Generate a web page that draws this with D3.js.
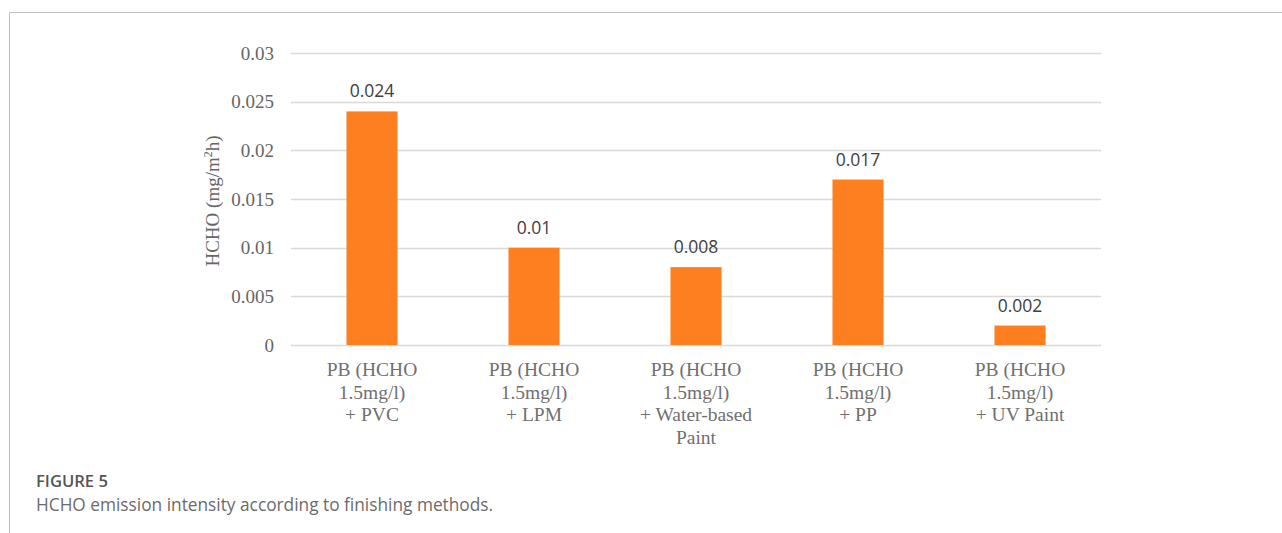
<!DOCTYPE html>
<html>
<head>
<meta charset="utf-8">
<script src="https://cdn.jsdelivr.net/npm/d3@7"></script>
<style>
  body { margin: 0; background: #fff; }
  svg { display: block; }
</style>
</head>
<body>
<div id="container"></div>
<script>
/* CONSTANTS AND GLOBALS */
const width = 1282
const height = 533
const margin = { top: 53, bottom: 188, left: 291, right: 181 }

/* DATA */
const categories = [
  ["PB (HCHO", "1.5mg/l)", "+ PVC"],
  ["PB (HCHO", "1.5mg/l)", "+ LPM"],
  ["PB (HCHO", "1.5mg/l)", "+ Water-based", "Paint"],
  ["PB (HCHO", "1.5mg/l)", "+ PP"],
  ["PB (HCHO", "1.5mg/l)", "+ UV Paint"]
]
const values = [0.024, 0.01, 0.008, 0.017, 0.002]
const valueLabels = ["0.024", "0.01", "0.008", "0.017", "0.002"]
const yTicks = [0, 0.005, 0.01, 0.015, 0.02, 0.025, 0.03]
const yTickLabels = ["0", "0.005", "0.01", "0.015", "0.02", "0.025", "0.03"]

const data = values.map((v, i) => ({ idx: i, lines: categories[i], value: v, label: valueLabels[i] }))

const svg = d3.select("#container")
  .append("svg")
  .attr("width", width)
  .attr("height", height)

// frame
svg.append("path")
  .attr("d", `M9.5,${height} V12.5 H${width}`)
  .attr("fill", "none")
  .attr("stroke", "#bdbdbd")
  .attr("stroke-width", 1)

// SCALES
const xScale = d3.scaleBand()
  .domain(data.map(d => d.idx))
  .range([margin.left, width - margin.right])
  .paddingInner(0.685)
  .paddingOuter(0.3425)

const yScale = d3.scaleLinear()
  .domain([0, 0.03])
  .range([height - margin.bottom, margin.top])

// GRIDLINES
svg.append("g")
  .selectAll("line")
  .data(yTicks)
  .join("line")
  .attr("x1", margin.left)
  .attr("x2", width - margin.right)
  .attr("y1", d => Math.round(yScale(d)) + 0.5)
  .attr("y2", d => Math.round(yScale(d)) + 0.5)
  .attr("stroke", "#d9d9d9")
  .attr("stroke-width", 1.5)

// Y AXIS
const yAxis = d3.axisLeft(yScale)
  .tickValues(yTicks)
  .tickFormat((d, i) => yTickLabels[i])
  .tickSize(0)
  .tickPadding(17)

const yAxisGroup = svg.append("g")
  .attr("transform", `translate(${margin.left}, 0)`)
  .call(yAxis)
yAxisGroup.select(".domain").remove()
yAxisGroup.selectAll("text")
  .attr("font-family", "'Liberation Serif', 'Times New Roman', serif")
  .attr("font-size", 19)
  .attr("fill", "#666")

// Y label
const yLabel = svg.append("text")
  .attr("transform", `translate(219, ${(margin.top + height - margin.bottom) / 2 + 2}) rotate(-90)`)
  .attr("text-anchor", "middle")
  .attr("font-family", "'Liberation Serif', 'Times New Roman', serif")
  .attr("font-size", 19)
  .attr("fill", "#666")
yLabel.append("tspan").text("HCHO (mg/m")
yLabel.append("tspan").attr("font-size", 12).attr("dy", -7).text("2")
yLabel.append("tspan").attr("dy", 7).text("h)")

// BARS
svg.append("g")
  .selectAll("rect")
  .data(data)
  .join("rect")
  .attr("x", d => xScale(d.idx))
  .attr("width", xScale.bandwidth())
  .attr("y", d => yScale(d.value))
  .attr("height", d => yScale(0) - yScale(d.value))
  .attr("fill", "#fd7f20")

// VALUE LABELS
svg.append("g")
  .selectAll("text")
  .data(data)
  .join("text")
  .attr("x", d => xScale(d.idx) + xScale.bandwidth() / 2)
  .attr("y", d => yScale(d.value) - 14)
  .attr("text-anchor", "middle")
  .attr("font-family", "'Open Sans', 'Noto Sans', sans-serif")
  .attr("font-size", 17.5)
  .attr("fill", "#404040")
  .text(d => d.label)

// CATEGORY LABELS
const catGroups = svg.append("g")
  .selectAll("text")
  .data(data)
  .join("text")
  .attr("x", d => xScale(d.idx) + xScale.bandwidth() / 2)
  .attr("y", height - margin.bottom + 31)
  .attr("text-anchor", "middle")
  .attr("font-family", "'Liberation Serif', 'Times New Roman', serif")
  .attr("font-size", 19.5)
  .attr("fill", "#707070")

catGroups.selectAll("tspan")
  .data(d => d.lines.map(l => ({ l, x: xScale(d.idx) + xScale.bandwidth() / 2 })))
  .join("tspan")
  .attr("x", d => d.x)
  .attr("dy", (d, i) => i === 0 ? 0 : 22.7)
  .text(d => d.l)

// CAPTION
svg.append("text")
  .attr("x", 36)
  .attr("y", 487)
  .attr("font-family", "'Open Sans', 'Noto Sans', sans-serif")
  .attr("font-size", 16.6)
  .attr("font-weight", 600)
  .attr("fill", "#555")
  .text("FIGURE 5")

svg.append("text")
  .attr("x", 36)
  .attr("y", 511)
  .attr("font-family", "'Open Sans', 'Noto Sans', sans-serif")
  .attr("font-size", 17.3)
  .attr("fill", "#6b6b6b")
  .text("HCHO emission intensity according to finishing methods.")
</script>
</body>
</html>
